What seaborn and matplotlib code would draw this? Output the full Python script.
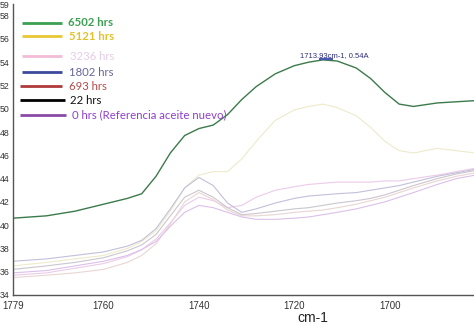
import numpy as np
import pandas as pd
import matplotlib
matplotlib.use("Agg")
import matplotlib.pyplot as plt
from matplotlib.lines import Line2D
import seaborn as sns

# ---------------- data ----------------
wavenumber = [1779, 1772, 1766, 1760, 1755, 1752, 1749, 1746, 1743, 1740, 1737, 1734,
              1731, 1728, 1724, 1720, 1717, 1714, 1711, 1707, 1704, 1701, 1698, 1695,
              1690, 1686, 1682, 1678]

abs_6502 = [.406, .408, .412, .418, .423, .427, .442, .462, .477, .483, .486, .495,
            .508, .519, .530, .537, .540, .542, .541, .535, .526, .514, .504, .502,
            .505, .506, .507, .507]
abs_5121 = [.365, .368, .371, .374, .380, .386, .395, .412, .432, .443, .446, .446,
            .457, .472, .490, .499, .502, .504, .501, .494, .484, .472, .464, .462,
            .466, .464, .462, .462]
abs_3236 = [.357, .359, .363, .367, .373, .379, .388, .402, .417, .424, .421, .415,
            .417, .424, .430, .433, .435, .436, .437, .437, .437, .438, .438, .440,
            .443, .446, .449, .450]
abs_1802 = [.369, .371, .374, .377, .382, .387, .397, .414, .432, .441, .434, .419,
            .411, .414, .419, .423, .425, .426, .427, .428, .430, .432, .434, .437,
            .442, .445, .448, .449]
abs_693 = [.355, .357, .359, .362, .368, .374, .384, .401, .420, .428, .422, .413,
           .408, .408, .409, .411, .412, .413, .415, .418, .421, .424, .428, .432,
           .438, .442, .445, .446]
abs_22 = [.362, .365, .368, .372, .378, .383, .392, .408, .424, .430, .424, .415,
          .409, .410, .412, .414, .415, .417, .419, .421, .423, .426, .430, .434,
          .440, .444, .447, .448]
abs_0 = [.359, .361, .365, .369, .374, .379, .386, .399, .411, .417, .415, .411,
         .407, .405, .405, .406, .407, .409, .411, .414, .417, .420, .424, .428,
         .435, .440, .443, .444]

series_names = ["6502 hrs", "5121 hrs", "3236 hrs", "1802 hrs", "693 hrs", "22 hrs",
                "0 hrs (Referencia aceite nuevo)"]
series_values = [abs_6502, abs_5121, abs_3236, abs_1802, abs_693, abs_22, abs_0]

y_ticks = [0.34, 0.36, 0.38, 0.40, 0.42, 0.44, 0.46, 0.48, 0.50, 0.52, 0.54, 0.56, 0.58, 0.59]
y_tick_labels = ["34", "36", "38", "40", "42", "44", "46", "48", "50", "52", "54", "56", "58", "59"]
x_ticks = [1779, 1760, 1740, 1720, 1700, 1680]
x_tick_labels = ["1779", "1760", "1740", "1720", "1700", ""]
peak_label = "1713.93cm-1, 0.54A"
x_label = "cm-1"

# ---------------- styles ----------------
plot_colors = ["#3c7a4c", "#eeeacb", "#eccbe9", "#c2c0da", "#e8d6d4", "#cbc6ce", "#dbc0ea"]
plot_widths = [1.0, 0.8, 0.8, 0.8, 0.8, 0.8, 0.8]
legend_line_colors = ["#3ba050", "#e8c832", "#f2bcd6", "#3c4a9c", "#b03a3a", "#000000", "#8a4aa8"]
legend_text_colors = ["#3ba050", "#e2c22e", "#e6cde6", "#66669a", "#b44c4c", "#111111", "#9040d0"]
legend_weights = ["bold", "bold", "normal", "normal", "normal", "normal", "normal"]

rows = []
for name, vals in zip(series_names, series_values):
    for x, v in zip(wavenumber, vals):
        rows.append({"cm-1": x, "A": v, "serie": name})
df = pd.DataFrame(rows)

sns.set_style("white")
plt.rcParams["font.family"] = ["Liberation Sans", "DejaVu Sans"]

W, H = 474, 324
fig = plt.figure(figsize=(W / 100, H / 100), dpi=100)
# axes: left x=13px, right beyond the image edge, bottom y=295, top y=4
AX_L, AX_R = 13, 485
ax = fig.add_axes([AX_L / W, (H - 295) / H, (AX_R - AX_L) / W, (295 - 4) / H])

# draw pale series first, green last
order = list(range(1, len(series_names))) + [0]
for i in order:
    sub = df[df["serie"] == series_names[i]]
    sns.lineplot(data=sub, x="cm-1", y="A", ax=ax, color=plot_colors[i],
                 linewidth=plot_widths[i], legend=False, estimator=None, sort=False)

ax.set_xlim(1779, 1680)
ax.set_ylim(0.34, 0.59)
ax.set_xticks(x_ticks)
ax.set_xticklabels(x_tick_labels)
ax.set_yticks(y_ticks)
ax.set_yticklabels(y_tick_labels)
ax.tick_params(axis="both", labelsize=6.3, colors="#333333", length=2, width=0.8,
               direction="out", pad=0.5)
ax.tick_params(axis="x", direction="inout", length=4, pad=2, labelsize=7)
for s in ["top", "right"]:
    ax.spines[s].set_visible(False)
for s in ["left", "bottom"]:
    ax.spines[s].set_color("#555555")
    ax.spines[s].set_linewidth(1.0)
ax.set_ylabel("")
ax.set_xlabel(x_label, fontsize=10, color="#222222")
ax.xaxis.set_label_coords((313 - AX_L) / (AX_R - AX_L), -0.055)

# peak annotation
g = np.array(abs_6502)
k = int(np.argmax(g))
px, py = wavenumber[k], g[k]
ax.plot([px + 0.8, px - 2.1], [py + 0.0005, py + 0.0005], color="#4a58b0", lw=1.6,
        solid_capstyle="butt")
ax.text(px - 2.3, py + 0.0035, peak_label, fontsize=5.5, color="#2e2e7e",
        ha="center", va="center")

# manual legend (pixel layout)
leg_y = [23, 36, 56, 72, 86, 100, 115]
leg_x0 = [22, 22, 22, 22, 20, 20, 20]
leg_x1 = [62, 62, 62, 62, 62, 65, 66]
leg_tx = [68, 69, 70, 69, 69, 70, 72]
for i, name in enumerate(series_names):
    yy = 1 - leg_y[i] / H
    fig.add_artist(Line2D([leg_x0[i] / W, leg_x1[i] / W], [yy, yy],
                          transform=fig.transFigure, color=legend_line_colors[i],
                          lw=2.0, solid_capstyle="butt"))
    fig.text(leg_tx[i] / W, yy, name, fontsize=8.2, color=legend_text_colors[i],
             fontweight=legend_weights[i], va="center", ha="left",
             family=["Lato", "DejaVu Sans"])

fig.savefig("out.png", dpi=100)
